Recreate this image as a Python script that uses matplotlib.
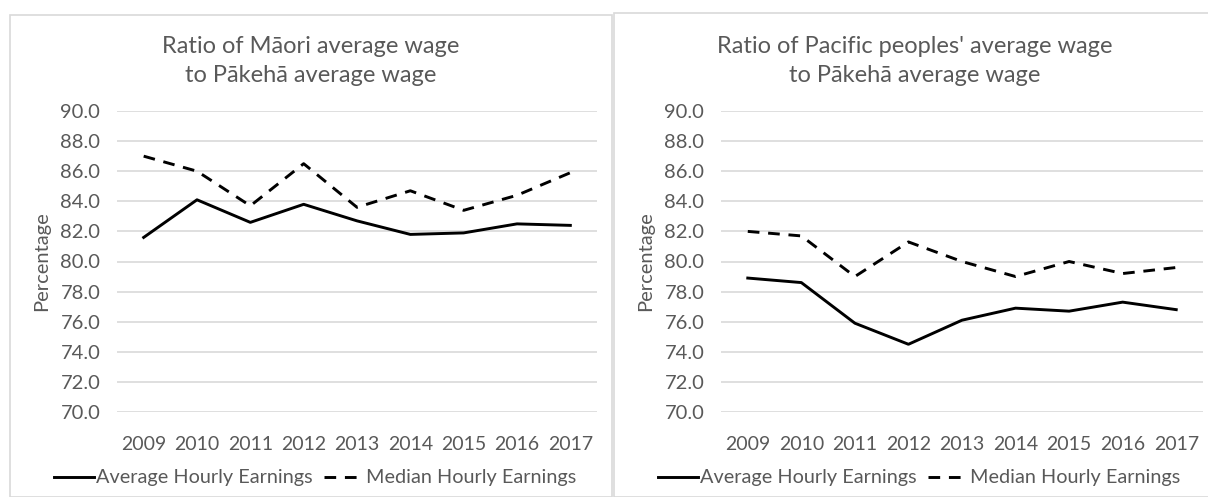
import matplotlib.pyplot as plt
from matplotlib.patches import Rectangle

years = ["2009", "2010", "2011", "2012", "2013", "2014", "2015", "2016", "2017"]

maori_average = [81.6, 84.1, 82.6, 83.8, 82.7, 81.8, 81.9, 82.5, 82.4]
maori_median = [87.0, 86.0, 83.7, 86.5, 83.6, 84.7, 83.4, 84.4, 85.9]

pacific_average = [78.9, 78.6, 75.9, 74.5, 76.1, 76.9, 76.7, 77.3, 76.8]
pacific_median = [82.0, 81.7, 79.0, 81.3, 80.0, 79.0, 80.0, 79.2, 79.6]

titles = [
    "Ratio of M\u0101ori average wage\nto P\u0101keh\u0101 average wage",
    "Ratio of Pacific peoples' average wage\nto P\u0101keh\u0101 average wage",
]
y_ticks = [70, 72, 74, 76, 78, 80, 82, 84, 86, 88, 90]

plt.rcParams["font.family"] = ["Lato", "DejaVu Sans"]
TEXT = "#595959"
GRID = "#d9d9d9"
W, H = 1208, 497

fig = plt.figure(figsize=(W / 100, H / 100), dpi=100)

panels = [
    # (panel left, panel top, panel right, axes left, axes right)
    (10, 15, 612, 117, 597),
    (614, 13, 1216, 721, 1203),
]
series = [(maori_average, maori_median), (pacific_average, pacific_median)]

for (px0, ptop, px1, ax0, ax1), (avg, med), title in zip(panels, series, titles):
    fig.patches.append(Rectangle((px0 / W, 0), (px1 - px0) / W, 1 - ptop / H,
                                 transform=fig.transFigure, fill=False,
                                 edgecolor=GRID, linewidth=1.2, zorder=0))
    axis = fig.add_axes([ax0 / W, 1 - 412 / H, (ax1 - ax0) / W, 301 / H])
    x = range(len(years))
    l1, = axis.plot(x, avg, color="black", linewidth=2.1,
                    label="Average Hourly Earnings")
    l2, = axis.plot(x, med, color="black", linewidth=2.1, linestyle=(0, (4, 3)),
                    label="Median Hourly Earnings")
    axis.set_xlim(-0.5, len(years) - 0.5)
    axis.set_ylim(70, 90)
    axis.set_yticks(y_ticks)
    axis.set_yticklabels([f"{v:.1f}" for v in y_ticks])
    axis.set_xticks(list(x))
    axis.set_xticklabels(years)
    axis.tick_params(length=0, labelsize=14.5, labelcolor=TEXT)
    axis.tick_params(axis="x", labelsize=14, pad=17)
    axis.tick_params(axis="y", pad=12)
    for spine in axis.spines.values():
        spine.set_visible(False)
    axis.grid(axis="y", color=GRID, linewidth=1.2)
    axis.set_axisbelow(True)
    axis.set_ylabel("Percentage", fontsize=14.5, color=TEXT)
    axis.yaxis.set_label_coords((px0 + 40 - ax0) / (ax1 - ax0), 0.5)

    cx = (px0 + px1) / 2
    fig.text(cx / W, 1 - 61 / H, title, ha="center", va="center", fontsize=17,
             color=TEXT, linespacing=1.5)
    fig.legend([l1, l2], [l1.get_label(), l2.get_label()], loc="center",
               bbox_to_anchor=(cx / W + 4 / W, 1 - 478 / H), ncol=2, frameon=False,
               fontsize=14.3, labelcolor=TEXT, handlelength=2.0, handletextpad=0.1,
               columnspacing=0.6, borderaxespad=0)

fig.savefig("out.png", dpi=100)
